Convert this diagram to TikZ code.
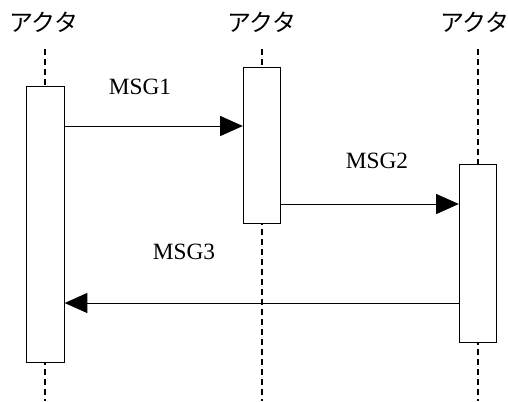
\documentclass[tikz,border=0pt]{standalone}
\usepackage{fontspec}
\setmainfont{Liberation Serif}
\newfontfamily\jpfont{Noto Sans CJK JP}
\usetikzlibrary{arrows.meta}
\begin{document}
\begin{tikzpicture}[x=0.75pt, y=-0.75pt,
		lifeline/.style={line width=1.5pt, dash pattern=on 4.5pt off 3pt},
		actbox/.style={draw, rectangle, fill=white, line width=0.75pt, inner sep=0pt, minimum width=28pt},
		msg/.style={-{Triangle[length=17pt, width=15pt]}, line width=0.75pt},
		actor/.style={font=\jpfont\fontsize{18pt}{18pt}\selectfont},
		msglabel/.style={font=\fontsize{17.5pt}{17.5pt}\selectfont}]
	\useasboundingbox (0,0) rectangle (508,401);

	% Actors
	\node[actor] (actorA) at (44,22) {アクタ};
	\node[actor] (actorB) at (262,22) {アクタ};
	\node[actor] (actorC) at (475,22) {アクタ};

	% Lifelines
	\coordinate (topA) at (45,49);   \coordinate (endA) at (45,401);
	\coordinate (topB) at (262,49);  \coordinate (endB) at (262,401);
	\coordinate (topC) at (478,49);  \coordinate (endC) at (478,401);
	\draw[lifeline] (topA) -- (endA);
	\draw[lifeline] (topB) -- (endB);
	\draw[lifeline] (topC) -- (endC);

	% Activations
	\node[actbox, minimum height=207pt] (actA) at (45.5,224) {};
	\node[actbox, minimum height=117pt] (actB) at (262,145) {};
	\node[actbox, minimum height=133.5pt] (actC) at (478,253) {};

	% MSG1
	\coordinate (y1) at (0,126);
	\draw[msg] (actA.east |- y1) -- (actB.west |- y1);
	\node[msglabel] (msg1) at (140,87) {MSG1};

	% MSG2
	\coordinate (y2) at (0,204);
	\draw[msg] (actB.east |- y2) -- (actC.west |- y2);
	\node[msglabel] (msg2) at (377,161) {MSG2};

	% MSG3
	\coordinate (y3) at (0,303);
	\draw[msg] (actC.west |- y3) -- (actA.east |- y3);
	\node[msglabel] (msg3) at (184,252) {MSG3};
\end{tikzpicture}
\end{document}
